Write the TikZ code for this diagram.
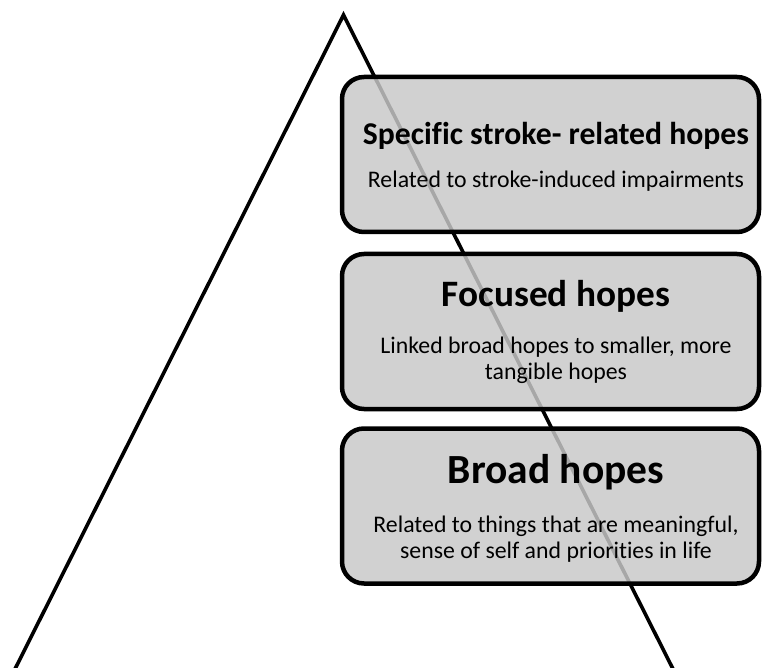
\documentclass[tikz,border=0pt]{standalone}
\usepackage{fontspec}
\setmainfont{Carlito}[Ligatures=NoCommon]
\begin{document}
\begin{tikzpicture}[x=1pt,y=-1pt,
  hopebox/.style={draw=black, line width=4.5pt, rounded corners=22pt, fill={rgb,255:red,200;green,200;blue,200}, fill opacity=0.84, minimum width=417pt, minimum height=155pt, inner sep=0pt},
  titletext/.style={anchor=base, inner sep=0pt, font=\bfseries},
  subtext/.style={anchor=base, inner sep=0pt, align=center, font=\fontsize{23.8}{25.8}\selectfont}]
\useasboundingbox (0,0) rectangle (763,668);
% pyramid
\coordinate (bl) at (15,669);
\coordinate (apex) at (343.5,15);
\coordinate (br) at (673,669);
\draw[line width=3.6pt] (bl) -- (apex) -- (br);
\draw[line width=1pt, black!12] (bl) -- (br);
% boxes
\node[hopebox] (b1) at (550.5,154.5) {};
\node[hopebox] (b2) at (550.5,331.5) {};
\node[hopebox] (b3) at (550.5,506) {};
% texts
\node[titletext, font=\bfseries\fontsize{31.7}{38}\selectfont] (t1) at (556,145) {Specific stroke- related hopes};
\node[subtext] (s1) at (556,187.5) {Related to stroke-induced impairments};
\node[titletext, font=\bfseries\fontsize{37.3}{44}\selectfont] (t2) at (556,307) {Focused hopes};
\node[subtext] (s2) at (556,379.5) {Linked broad hopes to smaller, more\\tangible hopes};
\node[titletext, font=\bfseries\fontsize{41.5}{49}\selectfont] (t3) at (556,483.5) {Broad hopes};
\node[subtext] (s3) at (556,558.5) {Related to things that are meaningful,\\sense of self and priorities in life};
\end{tikzpicture}
\end{document}
